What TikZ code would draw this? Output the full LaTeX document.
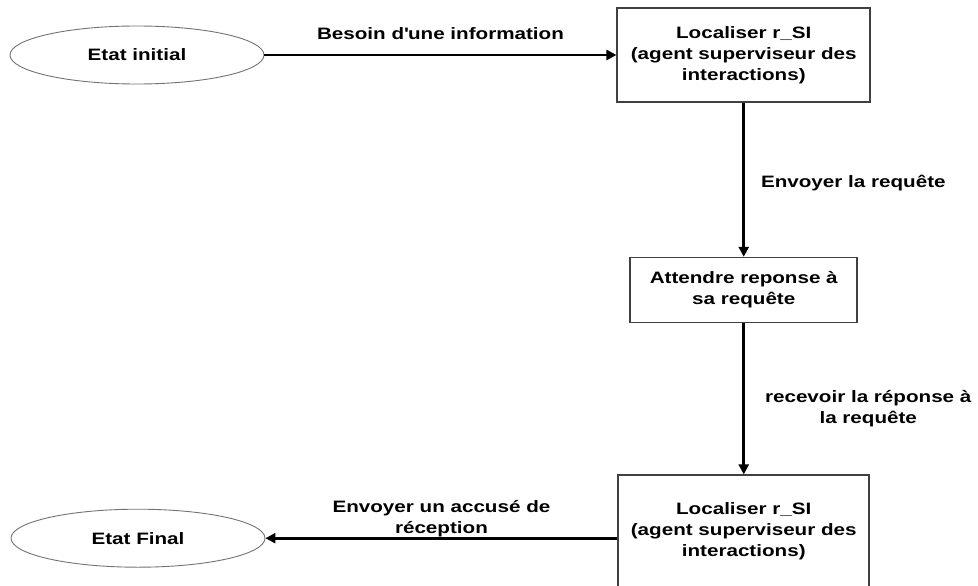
\documentclass[tikz,border=0pt]{standalone}
\usepackage{fontspec}
\setmainfont{Liberation Sans}[FakeStretch=1.25]
\usetikzlibrary{shapes.geometric, arrows.meta, positioning}
\newcommand{\diagfont}{\bfseries\fontsize{16.5}{21}\selectfont}
\tikzstyle{etat} = [ellipse, draw=black!55, line width=0.9pt, minimum width=254pt, minimum height=58pt,
    inner sep=0pt, font=\diagfont]
\tikzstyle{block} = [rectangle, draw=black!75, line width=1.6pt, fill=white,
    align=center, inner sep=0pt, font=\diagfont]
\tikzstyle{lbl} = [align=center, inner sep=0pt, font=\diagfont]
\tikzstyle{arrow} = [line width=2.6pt, -{Triangle[length=10pt,width=10pt]}]

\begin{document}
\begin{tikzpicture}[x=1pt, y=1pt]
  \useasboundingbox (0,0) rectangle (978,-586);
  \node (init)  [etat] at (137,-55) {Etat initial};
  \node (loc1)  [block, minimum width=253pt, minimum height=94pt, right=352pt of init]
        {Localiser r\_SI\\(agent superviseur des\\interactions)};
  \node (wait)  [block, minimum width=227pt, minimum height=65pt, below=154pt of loc1]
        {Attendre reponse à\\sa requête};
  \node (loc2)  [block, minimum width=251pt, minimum height=112pt, below=151pt of wait]
        {Localiser r\_SI\\(agent superviseur des\\interactions)};
  \node (final) [etat, left=352pt of loc2, yshift=-7pt] {Etat Final};

  \draw[arrow] (init) -- node[lbl, above=14pt] (besoin) {Besoin d\textquotesingle une information} (loc1);
  \draw[arrow] (loc1) -- node[lbl, right=16pt, yshift=-3pt] (envoi) {Envoyer la requête} (wait);
  \draw[arrow] (wait) -- node[lbl, right=20pt, yshift=-10pt] (recoit)
        {recevoir la réponse à\\la requête} (loc2);
  \draw[arrow] (loc2.west |- final) -- node[lbl, above=0pt] (accuse)
        {Envoyer un accusé de\\réception} (final);
\end{tikzpicture}
\end{document}
